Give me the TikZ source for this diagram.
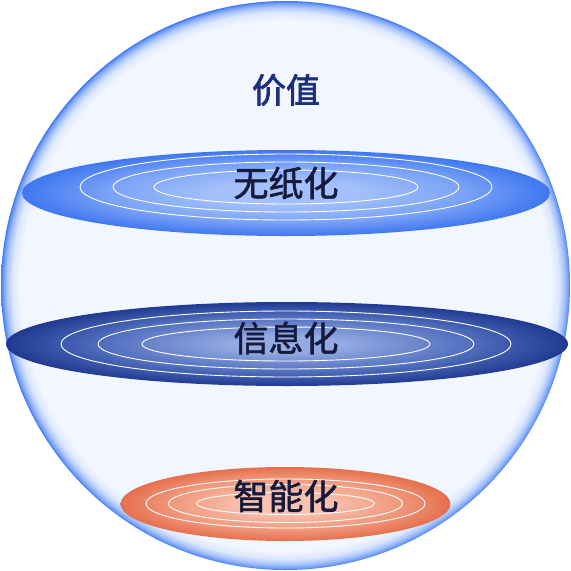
\documentclass[tikz,border=0pt]{standalone}
\usepackage{fontspec}
\newfontfamily\cjk{Noto Sans CJK SC}
\newfontfamily\cjkmed[FakeBold=1.6]{Noto Sans CJK SC}
\newfontfamily\cjktitle[FakeBold=2.2]{Noto Sans CJK SC}
\definecolor{sphin}{HTML}{F2F6FE}
\definecolor{sphga}{HTML}{DDE8FD}
\definecolor{sphgb}{HTML}{A9C4FA}
\definecolor{sphgc}{HTML}{6E9BF7}
\definecolor{sphrim}{HTML}{3D78F5}
\definecolor{topc}{HTML}{A3C0FA}
\definecolor{topm}{HTML}{7AA2F6}
\definecolor{tope}{HTML}{3F77F1}
\definecolor{midc}{HTML}{93AAE2}
\definecolor{midm}{HTML}{5470BF}
\definecolor{mide}{HTML}{1F3A90}
\definecolor{botc}{HTML}{F8C3B1}
\definecolor{botm}{HTML}{F09A7E}
\definecolor{bote}{HTML}{E66F4D}
\definecolor{titlecol}{HTML}{1B2F7E}
\definecolor{labelcol}{HTML}{161A3C}
\pgfdeclareradialshading{sphsh}{\pgfpoint{0bp}{0bp}}{color(0bp)=(sphin); color(23.3bp)=(sphin); color(24.0bp)=(sphga); color(24.5bp)=(sphgb); color(24.85bp)=(sphgc); color(25bp)=(sphrim); color(50bp)=(sphrim)}
\pgfdeclareradialshading{topsh}{\pgfpoint{0bp}{0bp}}{color(0bp)=(topc); color(7bp)=(topc); color(17bp)=(topm); color(25bp)=(tope); color(50bp)=(tope)}
\pgfdeclareradialshading{midsh}{\pgfpoint{0bp}{0bp}}{color(0bp)=(midc); color(5bp)=(midc); color(16bp)=(midm); color(25bp)=(mide); color(50bp)=(mide)}
\pgfdeclareradialshading{botsh}{\pgfpoint{0bp}{0bp}}{color(0bp)=(botc); color(6bp)=(botc); color(17bp)=(botm); color(25bp)=(bote); color(50bp)=(bote)}
\tikzset{
  ring/.style={draw=white, line width=0.9pt},
  title/.style={font=\cjktitle\fontsize{34}{40}\selectfont, text=titlecol, inner sep=0pt},
  label/.style={font=\cjkmed\fontsize{35}{42}\selectfont, text=labelcol, inner sep=0pt}
}
\begin{document}
\begin{tikzpicture}[x=1pt,y=-1pt]
\useasboundingbox[fill=white] (0,0) rectangle (571,571);
% sphere
\path[shading=sphsh] (285.5,285.5) circle [radius=284.5pt];
% top disc
\path[shading=topsh] (286,193) ellipse [x radius=264pt, y radius=43pt];
\draw[ring] (286,187) ellipse [x radius=206pt, y radius=33pt];
\draw[ring] (286,187) ellipse [x radius=173pt, y radius=25pt];
\draw[ring] (286,187) ellipse [x radius=132pt, y radius=17pt];
% middle disc
\path[shading=midsh] (287,344) ellipse [x radius=281pt, y radius=42pt];
\draw[ring] (286,344) ellipse [x radius=225pt, y radius=33pt];
\draw[ring] (286,344) ellipse [x radius=188pt, y radius=25pt];
\draw[ring] (286,344) ellipse [x radius=144pt, y radius=17pt];
% bottom disc
\path[shading=botsh] (285.5,504) ellipse [x radius=165pt, y radius=37pt];
\draw[ring] (285.5,503.5) ellipse [x radius=139.5pt, y radius=24.5pt];
\draw[ring] (285.5,503.5) ellipse [x radius=117pt, y radius=19pt];
\draw[ring] (285.5,503.5) ellipse [x radius=89pt, y radius=11pt];
% labels
\node[title] (jiazhi) at (286,90) {价值};
\node[label] (wuzhi) at (286,183) {无纸化};
\node[label] (xinxi) at (286,338) {信息化};
\node[label] (zhineng) at (286,496) {智能化};
\end{tikzpicture}
\end{document}
